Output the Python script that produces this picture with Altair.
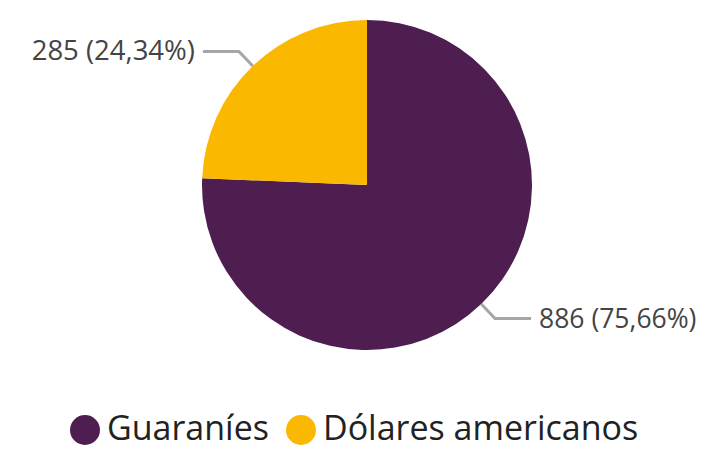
import math
import altair as alt
import pandas as pd

categories = ["Guaraníes", "Dólares americanos"]
values = [886, 285]
colors = ["#4E1E50", "#FBB800"]

W, H = 696, 442
CX, CY, R = 359, 177, 165
ELBOW = 20
HSEG = 36
GAP = 8

total = sum(values)
rows, line_rows, text_rows = [], [], []
cum = 0
for i, (c, v) in enumerate(zip(categories, values)):
    pct = v / total * 100
    label = f"{v} ({pct:.2f}%)".replace(".", ",")
    mid = (cum + v / 2) / total * 2 * math.pi
    cum += v
    rows.append({"cat": c, "val": v, "order": i})
    sx, sy = math.sin(mid), -math.cos(mid)
    ex, ey = CX + R * sx, CY + R * sy
    bx, by = CX + (R + ELBOW) * sx, CY + (R + ELBOW) * sy
    direction = 1 if sx >= 0 else -1
    fx = bx + direction * HSEG
    for k, (px, py) in enumerate([(ex, ey), (bx, by), (fx, by)]):
        line_rows.append({"cat": c, "k": k, "px": px, "py": py})
    text_rows.append({"cat": c, "label": label, "tx": fx + direction * GAP, "ty": by + 1,
                      "align": "left" if direction > 0 else "right"})

df = pd.DataFrame(rows)
ldf = pd.DataFrame(line_rows)
tdf = pd.DataFrame(text_rows)

pie = alt.Chart(df).mark_arc(outerRadius=R).encode(
    theta=alt.Theta("val:Q", stack=True),
    order=alt.Order("order:Q"),
    color=alt.Color(
        "cat:N",
        scale=alt.Scale(domain=categories, range=colors),
        sort=categories,
        legend=alt.Legend(
            title=None,
            orient="none",
            legendX=60,
            legendY=405,
            direction="horizontal",
            symbolType="circle",
            symbolSize=900,
            symbolStrokeWidth=0,
            labelFontSize=34,
            labelFont="Open Sans",
            labelColor="#222222",
            labelOffset=5,
            columnPadding=15,
            labelLimit=500,
        ),
    ),
    x=alt.value(CX),
    y=alt.value(CY),
)

leaders = alt.Chart(ldf).mark_line(color="#A6A6A6", strokeWidth=3).encode(
    x=alt.X("px:Q", scale=None),
    y=alt.Y("py:Q", scale=None),
    detail="cat:N",
    order="k:Q",
)

left_text = alt.Chart(tdf[tdf["align"] == "right"]).mark_text(
    align="right", baseline="middle", fontSize=27.5, font="Open Sans", color="#444444"
).encode(x=alt.X("tx:Q", scale=None), y=alt.Y("ty:Q", scale=None), text="label:N")

right_text = alt.Chart(tdf[tdf["align"] == "left"]).mark_text(
    align="left", baseline="middle", fontSize=26.5, font="Open Sans", color="#444444"
).encode(x=alt.X("tx:Q", scale=None), y=alt.Y("ty:Q", scale=None), text="label:N")

chart = alt.layer(pie, leaders, left_text, right_text).properties(
    width=W, height=H, autosize=alt.AutoSizeParams(type="none"), padding=0
).configure_view(stroke=None)

chart.save("out.html", embed_options={"renderer": "svg", "actions": False})
